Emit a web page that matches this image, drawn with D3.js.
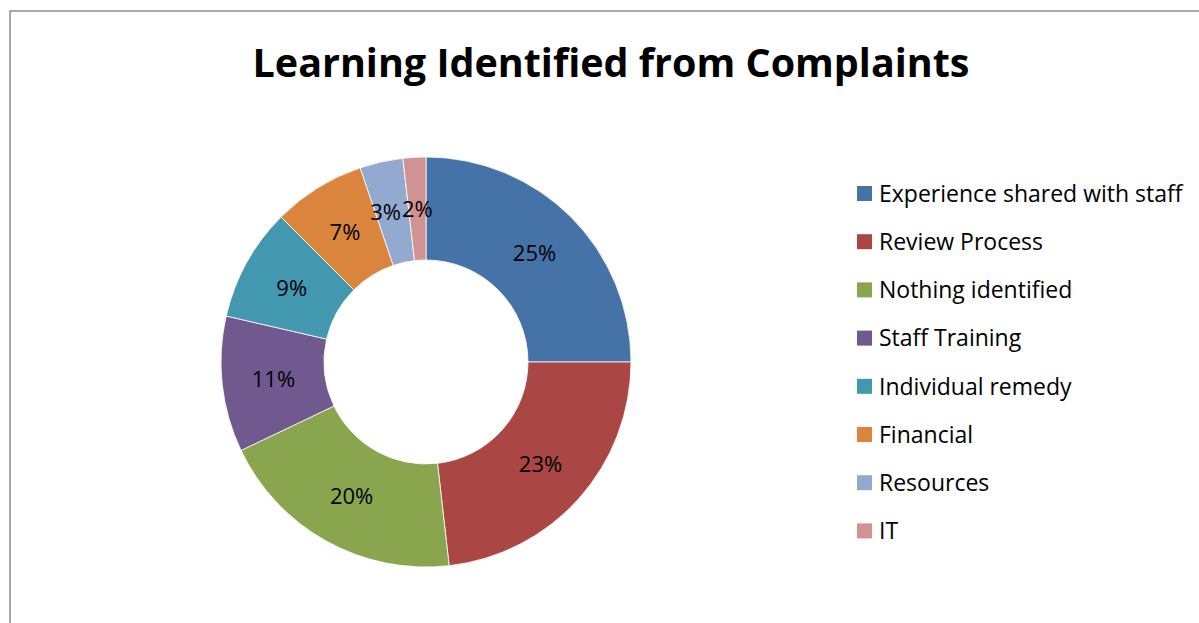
<!DOCTYPE html>
<html>
<head>
<meta charset="utf-8">
<script src="https://cdn.jsdelivr.net/npm/d3@7"></script>
<style>
  html, body { margin: 0; padding: 0; background: #fff; }
  svg { display: block; font-family: "Open Sans", "Liberation Sans", Arial, sans-serif; }
</style>
</head>
<body>
<div id="chart"></div>
<script>
// DATA (shares; labels show them rounded)
const categories = [
  "Experience shared with staff",
  "Review Process",
  "Nothing identified",
  "Staff Training",
  "Individual remedy",
  "Financial",
  "Resources",
  "IT"
];
const shares = [25.0, 23.2, 19.7, 10.7, 8.9, 7.3, 3.4, 1.8];
const sliceColors = ["#4572A7", "#AA4643", "#89A54E", "#71588F", "#4198AF", "#DB843D", "#93A9CF", "#D19392"];

const width = 1199;
const height = 623;

const svg = d3.select("#chart")
  .append("svg")
  .attr("width", width)
  .attr("height", height);

// FRAME (chart area border, cut by the window at right and bottom)
svg.append("rect")
  .attr("x", 10)
  .attr("y", 11)
  .attr("width", width + 20)
  .attr("height", height + 20)
  .attr("fill", "none")
  .attr("stroke", "#8c8c8c")
  .attr("stroke-width", 1.5);

// TITLE
svg.append("text")
  .attr("x", 611)
  .attr("y", 77)
  .attr("text-anchor", "middle")
  .attr("font-size", 40)
  .attr("font-weight", "bold")
  .attr("textLength", 717)
  .attr("lengthAdjust", "spacingAndGlyphs")
  .text("Learning Identified from Complaints");

// DONUT
const cx = 426, cy = 362;
const outerR = 205, innerR = 102;

const pie = d3.pie().sort(null).value(d => d.value);
const arc = d3.arc().innerRadius(innerR).outerRadius(outerR);
const labelArc = d3.arc().innerRadius((innerR + outerR) / 2).outerRadius((innerR + outerR) / 2);

const data = categories.map((c, i) => ({ name: c, value: shares[i], color: sliceColors[i] }));
const arcs = pie(data);

const g = svg.append("g").attr("transform", `translate(${cx},${cy})`);

g.selectAll("path.slice")
  .data(arcs)
  .enter()
  .append("path")
  .attr("class", "slice")
  .attr("d", arc)
  .attr("fill", d => d.data.color)
  .attr("stroke", "#fff")
  .attr("stroke-width", 0.8);

const pos = arcs.map(d => labelArc.centroid(d));

const labels = g.selectAll("text.pct")
  .data(arcs)
  .enter()
  .append("text")
  .attr("class", "pct")
  .attr("x", (d, i) => pos[i][0])
  .attr("y", (d, i) => pos[i][1])
  .attr("text-anchor", "middle")
  .attr("dy", "0.36em")
  .attr("font-size", 22)
  .attr("fill", "#000")
  .text(d => `${Math.round(d.data.value)}%`);

// nudge crowded labels apart (small slices at the top), like Excel does
const nodes = labels.nodes();
for (let i = nodes.length - 2; i >= 0; i--) {
  const a = nodes[i].getBBox();
  const b = nodes[i + 1].getBBox();
  const overlapY = a.y < b.y + b.height && b.y < a.y + a.height;
  const overlapX = a.x + a.width + 1 - b.x;
  if (overlapY && overlapX > 0 && a.x < b.x) {
    pos[i][0] -= overlapX;
    d3.select(nodes[i]).attr("x", pos[i][0]);
  }
}

// LEGEND
const legend = svg.append("g").attr("transform", "translate(857,186)");
const rowH = 48.2;

const rows = legend.selectAll("g.row")
  .data(data)
  .enter()
  .append("g")
  .attr("class", "row")
  .attr("transform", (d, i) => `translate(0,${i * rowH})`);

rows.append("rect")
  .attr("width", 15)
  .attr("height", 15)
  .attr("fill", d => d.color);

rows.append("text")
  .attr("x", 22)
  .attr("y", 7.5)
  .attr("dy", "0.36em")
  .attr("font-size", 23)
  .attr("fill", "#000")
  .text(d => d.name);
</script>
</body>
</html>
